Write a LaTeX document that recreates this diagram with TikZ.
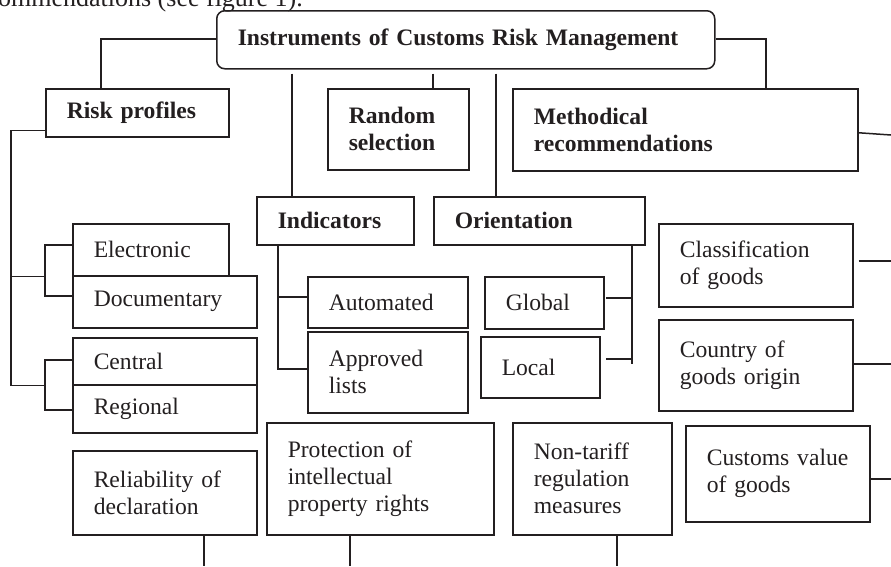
\documentclass[tikz,border=0pt]{standalone}
\usepackage{fontspec}
\setmainfont{Liberation Serif}
\usetikzlibrary{calc}
\definecolor{ink}{HTML}{231F20}
\tikzset{
  box/.style={draw=ink, line width=1.5pt, inner xsep=21pt, inner ysep=0pt,
    align=left, anchor=north west, text=ink,
    font=\fontsize{23.6}{27}\selectfont},
  bbox/.style={box, font=\fontsize{23.6}{27}\selectfont\bfseries},
  conn/.style={draw=ink, line width=1.5pt},
}
\newcommand\mkbox[7]{%
  \pgfmathsetmacro\mkw{#5-#3}%
  \pgfmathsetmacro\mkh{#6-#4}%
  \pgfmathsetmacro\mktw{#5-#3-42}%
  \node[#1, minimum width=\mkw pt, minimum height=\mkh pt, text width=\mktw pt] (#2) at (#3,#4) {#7};}
\begin{document}
\begin{tikzpicture}[x=1pt,y=-1pt]
\useasboundingbox (0,0) rectangle (891,566);
% clipped text line from the page above
\node[anchor=base east, inner sep=0pt, text=ink, font=\fontsize{26}{30}\selectfont] (prev) at (303,6) {recommendations (see figure 1).};
% boxes
\mkbox{bbox,rounded corners=8pt}{main}{216}{10}{714}{68}{Instruments of Customs Risk Management}
\mkbox{bbox}{risk}{45}{88}{228}{136}{Risk profiles}
\mkbox{bbox}{random}{327}{88}{468}{169}{Random\\selection}
\mkbox{bbox}{method}{512}{88}{857}{170}{Methodical\\recommendations}
\mkbox{bbox}{indic}{256}{196}{413}{244}{Indicators}
\mkbox{bbox}{orient}{433}{196}{644}{244}{Orientation}
\mkbox{box}{elec}{72}{223}{228}{275}{Electronic}
\mkbox{box}{doc}{72}{275}{256}{327}{Documentary}
\mkbox{box}{central}{72}{337}{256}{384}{Central}
\mkbox{box}{regional}{72}{384}{256}{432}{Regional}
\mkbox{box}{autom}{307}{276}{467}{327}{Automated}
\mkbox{box}{approved}{307}{331}{467}{412}{Approved\\lists}
\mkbox{box}{global}{484}{276}{603}{328}{Global}
\mkbox{box}{local}{480}{336}{599}{397}{Local}
\mkbox{box}{classif}{658}{223}{852}{306}{Classification\\of goods}
\mkbox{box}{country}{658}{319}{852}{410}{Country of\\goods origin}
\mkbox{box}{custval}{685}{425}{869}{521}{\mbox{Customs value}\\of goods}
\mkbox{box}{reliab}{72}{450}{256}{534}{Reliability of\\declaration}
\mkbox{box}{protect}{266}{422}{493}{534}{Protection of\\intellectual\\property rights}
\mkbox{box}{nontariff}{512}{422}{671}{534}{Non-tariff\\regulation\\measures}
% helper coordinates
\coordinate (xi) at (292,0);
\coordinate (xr) at (433,0);
\coordinate (xo) at (496,0);
\coordinate (xl) at (101,0);
\coordinate (xm) at (766,0);
\coordinate (yl) at (0,39);
\coordinate (rp) at (11,0);
\coordinate (br) at (45,0);
\coordinate (xic) at (278,0);
\coordinate (xoc) at (632,0);
\coordinate (xog) at (606,0);
\coordinate (e1) at (891,135);
\coordinate (e2) at (891,261);
\coordinate (e3) at (891,364);
\coordinate (e4) at (891,479);
\coordinate (b1) at (204,566);
\coordinate (b2) at (350,566);
\coordinate (b3) at (617,566);
% top level connectors
\draw[conn] (main.west |- yl) -| (risk.north -| xl);
\draw[conn] (main.east |- yl) -| (method.north -| xm);
\draw[conn] ([yshift=-4pt]main.south -| xi) -- (indic.north -| xi);
\draw[conn] ([yshift=-4pt]main.south -| xr) -- (random.north -| xr);
\draw[conn] ([yshift=-4pt]main.south -| xo) -- (orient.north -| xo);
% risk profiles tree
\draw[conn] ([yshift=7pt]risk.south west) -| (rp |- central.south) -- (central.south -| br);
\draw[conn] (rp |- elec.south) -- (elec.south -| br);
\draw[conn] ([yshift=5pt]elec.west) -| ([yshift=6pt]doc.west -| br) -- ([yshift=6pt]doc.west);
\draw[conn] ([yshift=1.5pt]central.west) -| ([yshift=-1pt]regional.west -| br) -- ([yshift=-1pt]regional.west);
% indicators tree
\draw[conn] (indic.south -| xic) |- ([yshift=3.5pt]approved.west);
\draw[conn] ([yshift=5.5pt]autom.west -| xic) -- ([yshift=5.5pt]autom.west);
% orientation tree
\draw[conn] (orient.south -| xoc) -- ([yshift=3.5pt]local.east -| xoc);
\draw[conn] ([yshift=5pt]global.east -| xog) -- ([yshift=5pt]global.east -| xoc);
\draw[conn] ([yshift=8.5pt]local.east -| xog) -- ([yshift=8.5pt]local.east -| xoc);
% right side
\draw[conn] ([yshift=-3pt]method.east) -- (e1);
\draw[conn] ([xshift=5pt]classif.east |- e2) -- (e2);
\draw[conn] (country.east |- e3) -- (e3);
\draw[conn] (custval.east |- e4) -- (e4);
% bottom
\draw[conn] (reliab.south -| b1) -- (b1);
\draw[conn] (protect.south -| b2) -- (b2);
\draw[conn] (nontariff.south -| b3) -- (b3);
\end{tikzpicture}
\end{document}
